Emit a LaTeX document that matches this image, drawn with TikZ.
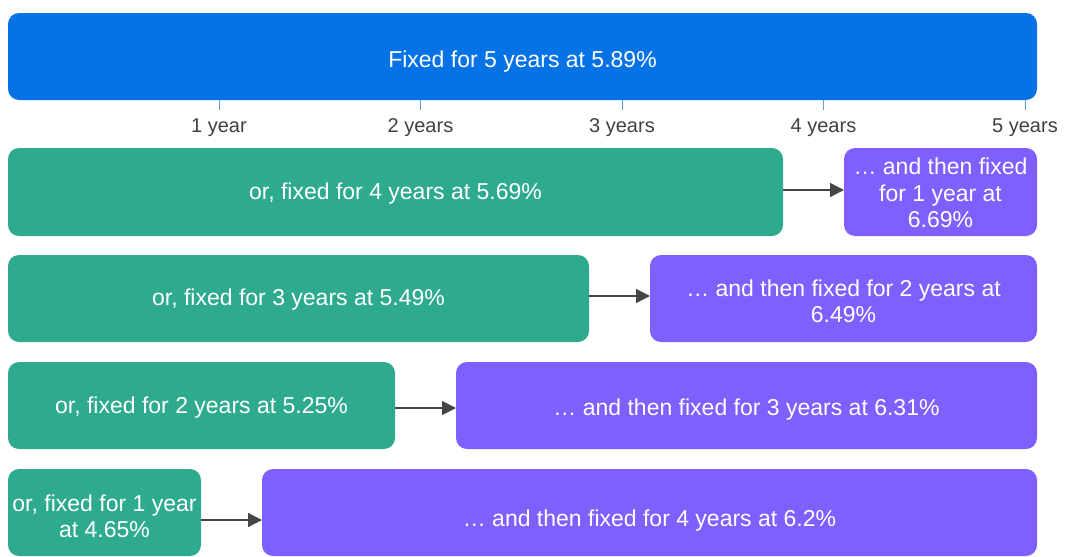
\documentclass[tikz,border=0pt]{standalone}
\usepackage{fontspec}
\setmainfont{Liberation Sans}
\usetikzlibrary{arrows.meta}
\definecolor{topblue}{HTML}{0573E6}
\definecolor{fixgreen}{HTML}{2EAB8E}
\definecolor{thenpurple}{HTML}{7F5FFE}
\definecolor{tickblue}{HTML}{5A9FE6}
\definecolor{labelgrey}{HTML}{404040}
\definecolor{arrowgrey}{HTML}{454545}
\tikzset{
  bar/.style={rounded corners=11pt, inner sep=0pt, outer sep=0pt, anchor=north west},
  greenbar/.style={bar, fill=fixgreen},
  purplebar/.style={bar, fill=thenpurple},
  bartext/.style={text=white, align=center, inner sep=0pt, font=\fontsize{23}{26.5}\selectfont},
  tickline/.style={draw=tickblue, line width=1pt},
  ticklabel/.style={text=labelgrey, font=\fontsize{20}{24}\selectfont, inner sep=0pt},
  arr/.style={draw=arrowgrey, line width=1.3pt, -{Triangle[length=14pt,width=14pt]}}
}
\begin{document}
\begin{tikzpicture}[x=1pt,y=-1pt]
\useasboundingbox (0,0) rectangle (1066,557);
% top bar
\node[bar, fill=topblue, minimum width=1029pt, minimum height=87pt] (top) at (8,13) {};
\node[bartext, yshift=-5pt] (toptext) at (top.center) {Fixed for 5 years at 5.89\%};
% ticks
\foreach \i/\x/\t in {1/219/1 year,2/420.5/2 years,3/622/3 years,4/823.5/4 years,5/1025/5 years}{
  \coordinate (ta\i) at (\x,100);
  \coordinate (tb\i) at (\x,110);
  \draw[tickline] (ta\i) -- (tb\i);
  \node[ticklabel] (tl\i) at (\x,128) {\t};
}
% rows
\node[greenbar, minimum width=775pt, minimum height=88pt] (g1) at (8,148) {};
\node[bartext, yshift=-2pt] (g1t) at (g1.center) {or, fixed for 4 years at 5.69\%};
\node[purplebar, minimum width=193pt, minimum height=88pt] (p1) at (844,148) {};
\node[bartext, yshift=-1pt] (p1t) at (p1.center) {… and then fixed\\for 1 year at\\6.69\%};

\node[greenbar, minimum width=581pt, minimum height=87pt] (g2) at (8,255) {};
\node[bartext, yshift=-1pt] (g2t) at (g2.center) {or, fixed for 3 years at 5.49\%};
\node[purplebar, minimum width=387pt, minimum height=87pt] (p2) at (650,255) {};
\node[bartext, yshift=-3pt] (p2t) at (p2.center) {… and then fixed for 2 years at\\6.49\%};

\node[greenbar, minimum width=387pt, minimum height=87pt] (g3) at (8,362) {};
\node[bartext, yshift=-2pt] (g3t) at (g3.center) {or, fixed for 2 years at 5.25\%};
\node[purplebar, minimum width=581pt, minimum height=87pt] (p3) at (456,362) {};
\node[bartext, yshift=-4pt] (p3t) at (p3.center) {… and then fixed for 3 years at 6.31\%};

\node[greenbar, minimum width=193pt, minimum height=87pt] (g4) at (8,469) {};
\node[bartext, yshift=-4pt] (g4t) at (g4.center) {or, fixed for 1 year\\at 4.65\%};
\node[purplebar, minimum width=775pt, minimum height=87pt] (p4) at (262,469) {};
\node[bartext, yshift=-8pt] (p4t) at (p4.center) {… and then fixed for 4 years at 6.2\%};
% arrows
\draw[arr] ([yshift=2pt]g1.east) -- ([yshift=2pt]p1.west);
\draw[arr] ([yshift=2.5pt]g2.east) -- ([yshift=2.5pt]p2.west);
\draw[arr] ([yshift=-2.5pt]g3.east) -- ([yshift=-2.5pt]p3.west);
\draw[arr] ([yshift=-7.5pt]g4.east) -- ([yshift=-7.5pt]p4.west);
\end{tikzpicture}
\end{document}
